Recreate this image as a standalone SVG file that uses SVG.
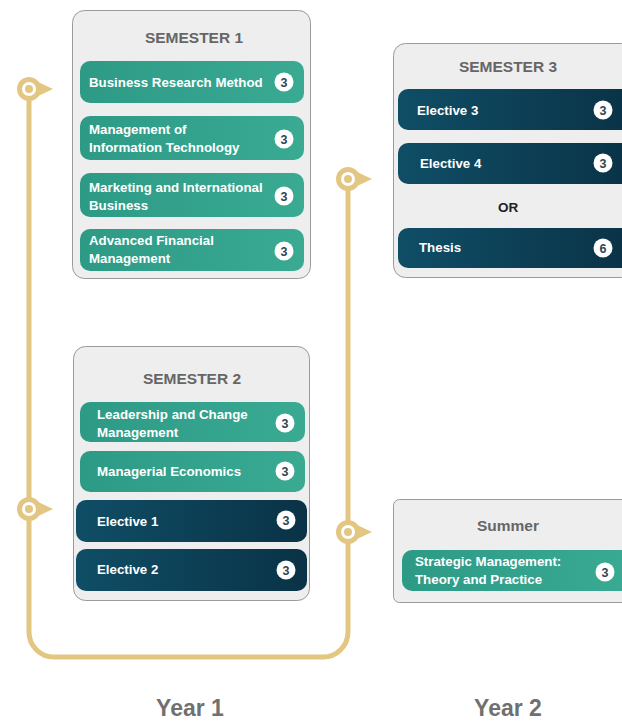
<svg xmlns="http://www.w3.org/2000/svg" width="622" height="722" viewBox="0 0 622 722">
<defs>
<linearGradient id="teal" x1="0" y1="0" x2="1" y2="0">
<stop offset="0" stop-color="#2D9A86"/><stop offset="1" stop-color="#3AAA93"/>
</linearGradient>
<linearGradient id="dark" x1="0" y1="0" x2="1" y2="0">
<stop offset="0" stop-color="#0F4E66"/><stop offset="1" stop-color="#0A3246"/>
</linearGradient>
<g id="pin">
<circle r="12" fill="#E3C682"/>
<path d="M7,-8 L24,0 L7,8 Z" fill="#E3C682"/>
<circle r="7" fill="#fff"/>
<circle r="4" fill="#E3C682"/>
</g>
</defs>
<style>
.box{fill:#EEEEEE;stroke:#9A9A9A;stroke-width:1}
.tp{fill:url(#teal)}
.dp{fill:url(#dark)}
.t{font-family:"Liberation Sans",Arial,sans-serif;font-weight:bold;font-size:13.3px;fill:#fff}
.h{font-family:"Liberation Sans",Arial,sans-serif;font-weight:bold;font-size:15.5px;fill:#666666;text-anchor:middle}
.or{font-family:"Liberation Sans",Arial,sans-serif;font-weight:bold;font-size:13.5px;fill:#222;text-anchor:middle}
.b{fill:#fff}
.n{font-family:"Liberation Sans",Arial,sans-serif;font-weight:bold;font-size:12.5px;fill:#2F4550;text-anchor:middle}
.y{font-family:"Liberation Sans",Arial,sans-serif;font-weight:bold;font-size:23px;fill:#707070;text-anchor:middle}
.c{fill:none;stroke:#E3C682;stroke-width:5}
</style>
<rect width="622" height="722" fill="#fff"/>

<g id="connectors">
<path class="c" d="M29,89 V632 A25,25 0 0 0 54,657 H323 A25,25 0 0 0 348,632 V179"/>
<use href="#pin" x="29" y="89"/>
<use href="#pin" x="29" y="509"/>
<use href="#pin" x="348" y="179"/>
<use href="#pin" x="348" y="532"/>
</g>

<g id="semester1">
<rect class="box" x="72.5" y="10.5" width="238" height="268" rx="12"/>
<text class="h" x="194" y="43">SEMESTER 1</text>
<g id="s1c1"><rect class="tp" x="80" y="61" width="224" height="42" rx="10"/>
<text class="t" x="89" y="87">Business Research Method</text>
<circle class="b" cx="284" cy="82" r="9.5"/><text class="n" x="284" y="86.5">3</text></g>
<g id="s1c2"><rect class="tp" x="80" y="116" width="224" height="44" rx="10"/>
<text class="t" x="89" y="134">Management of</text><text class="t" x="89" y="152">Information Technology</text>
<circle class="b" cx="284" cy="139" r="9.5"/><text class="n" x="284" y="143.5">3</text></g>
<g id="s1c3"><rect class="tp" x="80" y="173" width="224" height="44" rx="10"/>
<text class="t" x="89" y="192">Marketing and International</text><text class="t" x="89" y="210">Business</text>
<circle class="b" cx="284" cy="196" r="9.5"/><text class="n" x="284" y="200.5">3</text></g>
<g id="s1c4"><rect class="tp" x="80" y="229" width="224" height="42" rx="10"/>
<text class="t" x="89" y="245">Advanced Financial</text><text class="t" x="89" y="263">Management</text>
<circle class="b" cx="284" cy="251" r="9.5"/><text class="n" x="284" y="255.5">3</text></g>
</g>

<g id="semester2">
<rect class="box" x="73.5" y="346.5" width="236" height="254" rx="12"/>
<text class="h" x="192" y="384">SEMESTER 2</text>
<g id="s2c1"><rect class="tp" x="80" y="402" width="225" height="40" rx="10"/>
<text class="t" x="97" y="419">Leadership and Change</text><text class="t" x="97" y="437">Management</text>
<circle class="b" cx="285" cy="423" r="9.5"/><text class="n" x="285" y="427.5">3</text></g>
<g id="s2c2"><rect class="tp" x="80" y="451" width="225" height="41" rx="10"/>
<text class="t" x="97" y="476">Managerial Economics</text>
<circle class="b" cx="285" cy="471" r="9.5"/><text class="n" x="285" y="475.5">3</text></g>
<g id="s2c3"><rect class="dp" x="76" y="500" width="231" height="42" rx="10"/>
<text class="t" x="97" y="526">Elective 1</text>
<circle class="b" cx="286" cy="520" r="9.5"/><text class="n" x="286" y="524.5">3</text></g>
<g id="s2c4"><rect class="dp" x="76" y="549" width="231" height="42" rx="10"/>
<text class="t" x="97" y="574">Elective 2</text>
<circle class="b" cx="286" cy="570" r="9.5"/><text class="n" x="286" y="574.5">3</text></g>
</g>

<g id="semester3">
<rect class="box" x="393.5" y="43.5" width="240" height="234" rx="12"/>
<text class="h" x="508" y="72">SEMESTER 3</text>
<g id="s3c1"><rect class="dp" x="398" y="89" width="236" height="41" rx="10"/>
<text class="t" x="417" y="115">Elective 3</text>
<circle class="b" cx="603" cy="110" r="9.5"/><text class="n" x="603" y="114.5">3</text></g>
<g id="s3c2"><rect class="dp" x="398" y="143" width="236" height="41" rx="10"/>
<text class="t" x="420" y="168">Elective 4</text>
<circle class="b" cx="603" cy="163" r="9.5"/><text class="n" x="603" y="167.5">3</text></g>
<text class="or" x="508" y="212">OR</text>
<g id="s3c3"><rect class="dp" x="398" y="228" width="236" height="40" rx="10"/>
<text class="t" x="419" y="252">Thesis</text>
<circle class="b" cx="603" cy="248" r="9.5"/><text class="n" x="603" y="252.5">6</text></g>
</g>

<g id="summer">
<rect class="box" x="393.5" y="499.5" width="240" height="103" rx="6"/>
<text class="h" x="508" y="531">Summer</text>
<g id="sumc1"><rect class="tp" x="402" y="550" width="232" height="41" rx="10"/>
<text class="t" x="415" y="566">Strategic Management:</text><text class="t" x="415" y="584">Theory and Practice</text>
<circle class="b" cx="605" cy="572" r="9.5"/><text class="n" x="605" y="576.5">3</text></g>
</g>

<text class="y" x="190" y="716">Year 1</text>
<text class="y" x="508" y="716">Year 2</text>
</svg>
